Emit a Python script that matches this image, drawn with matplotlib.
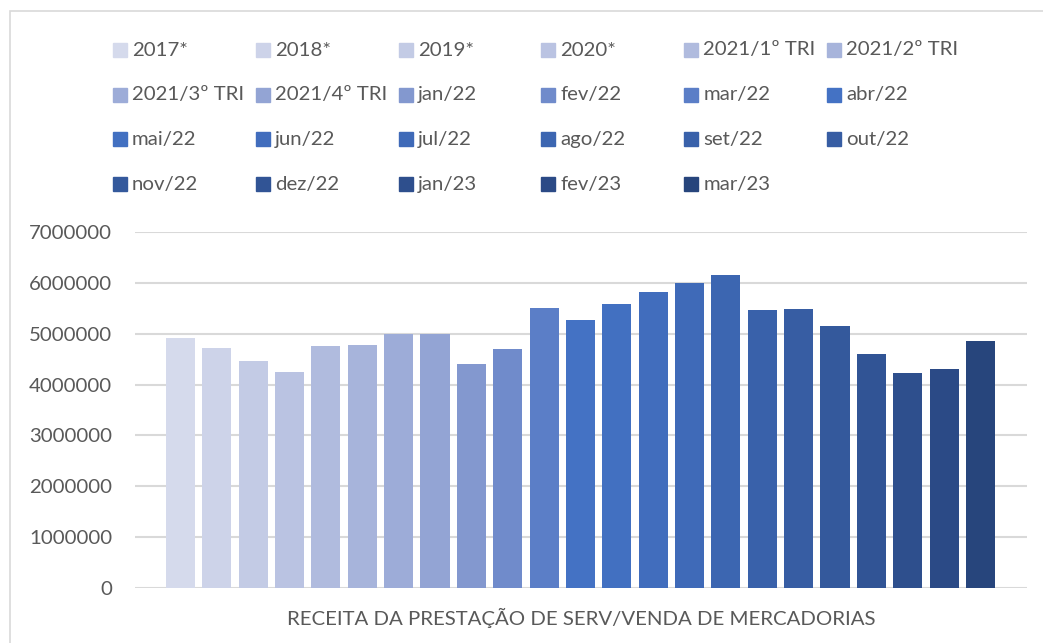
import numpy as np
import matplotlib
matplotlib.use('Agg')
from matplotlib import pyplot as plt
from matplotlib.patches import Rectangle

# series (one bar per period)
labels = ['2017*', '2018*', '2019*', '2020*', '2021/1º TRI', '2021/2º TRI',
          '2021/3º TRI', '2021/4º TRI', 'jan/22', 'fev/22', 'mar/22', 'abr/22',
          'mai/22', 'jun/22', 'jul/22', 'ago/22', 'set/22', 'out/22',
          'nov/22', 'dez/22', 'jan/23', 'fev/23', 'mar/23']
values = [4915000, 4720000, 4460000, 4250000, 4760000, 4780000,
          5000000, 5000000, 4410000, 4700000, 5510000, 5270000,
          5580000, 5820000, 5990000, 6150000, 5460000, 5480000,
          5150000, 4600000, 4230000, 4310000, 4860000]
y_ticks = [0, 1000000, 2000000, 3000000, 4000000, 5000000, 6000000, 7000000]
x_title = 'RECEITA DA PRESTAÇÃO DE SERV/VENDA DE MERCADORIAS'

# paleta monocromática (Excel), do mais claro ao mais escuro
colors = ['#D5DAEC', '#CDD3E9', '#C3CBE5', '#BAC3E2', '#B0BBDE', '#A7B4DB',
          '#9DACD8', '#93A4D4', '#8398CF', '#708BCB', '#5B7EC7', '#4472C4',
          '#4270C1', '#416DBD', '#3F6AB8', '#3C66B1', '#3961AA', '#375DA3',
          '#34599C', '#315495', '#2E4F8D', '#2B4A86', '#27457C']

TEXT = '#595959'
GRID = '#D9D9D9'
FONT = 'Lato'
FS = 14.7

W, H = 1043, 643
fig = plt.figure(figsize=(W / 100, H / 100), dpi=100)
fig.patch.set_facecolor('white')

# moldura do gráfico
fig.add_artist(Rectangle((10 / W, -0.1), 1.2, 1 - 11 / H + 0.1,
                         transform=fig.transFigure, fill=False,
                         edgecolor='#D9D9D9', linewidth=1.2))

ax = fig.add_axes([135 / W, 1 - 588 / H, (1027 - 135) / W, (588 - 232) / H])
x = np.arange(len(values))
ax.bar(x, values, width=0.8, color=colors, zorder=3)

ax.set_xlim(-1.25, len(values) - 1 + 1.28)
ax.set_ylim(0, 7000000)
ax.set_yticks(y_ticks)
ax.set_yticklabels([str(v) for v in y_ticks], fontsize=FS, color=TEXT,
                   family=FONT)
ax.tick_params(axis='y', length=0, pad=16.5)
ax.set_xticks([])
ax.grid(axis='y', color=GRID, linewidth=1.5, zorder=0)
for s in ax.spines.values():
    s.set_visible(False)
ax.set_xlabel(x_title, fontsize=FS, color=TEXT, family=FONT, labelpad=14)

# legenda manual em 6 colunas
for i, (lab, col) in enumerate(zip(labels, colors)):
    r, c = divmod(i, 6)
    lx = 113 + c * 142.8
    ly = 50 + r * 44.7
    fig.add_artist(Rectangle((lx / W, 1 - (ly + 7) / H), 14 / W, 14 / H,
                             transform=fig.transFigure, color=col))
    fig.text((lx + 19) / W, 1 - ly / H, lab, fontsize=FS, color=TEXT,
             family=FONT, va='center', ha='left')

fig.savefig('out.png', dpi=100, facecolor='white')
